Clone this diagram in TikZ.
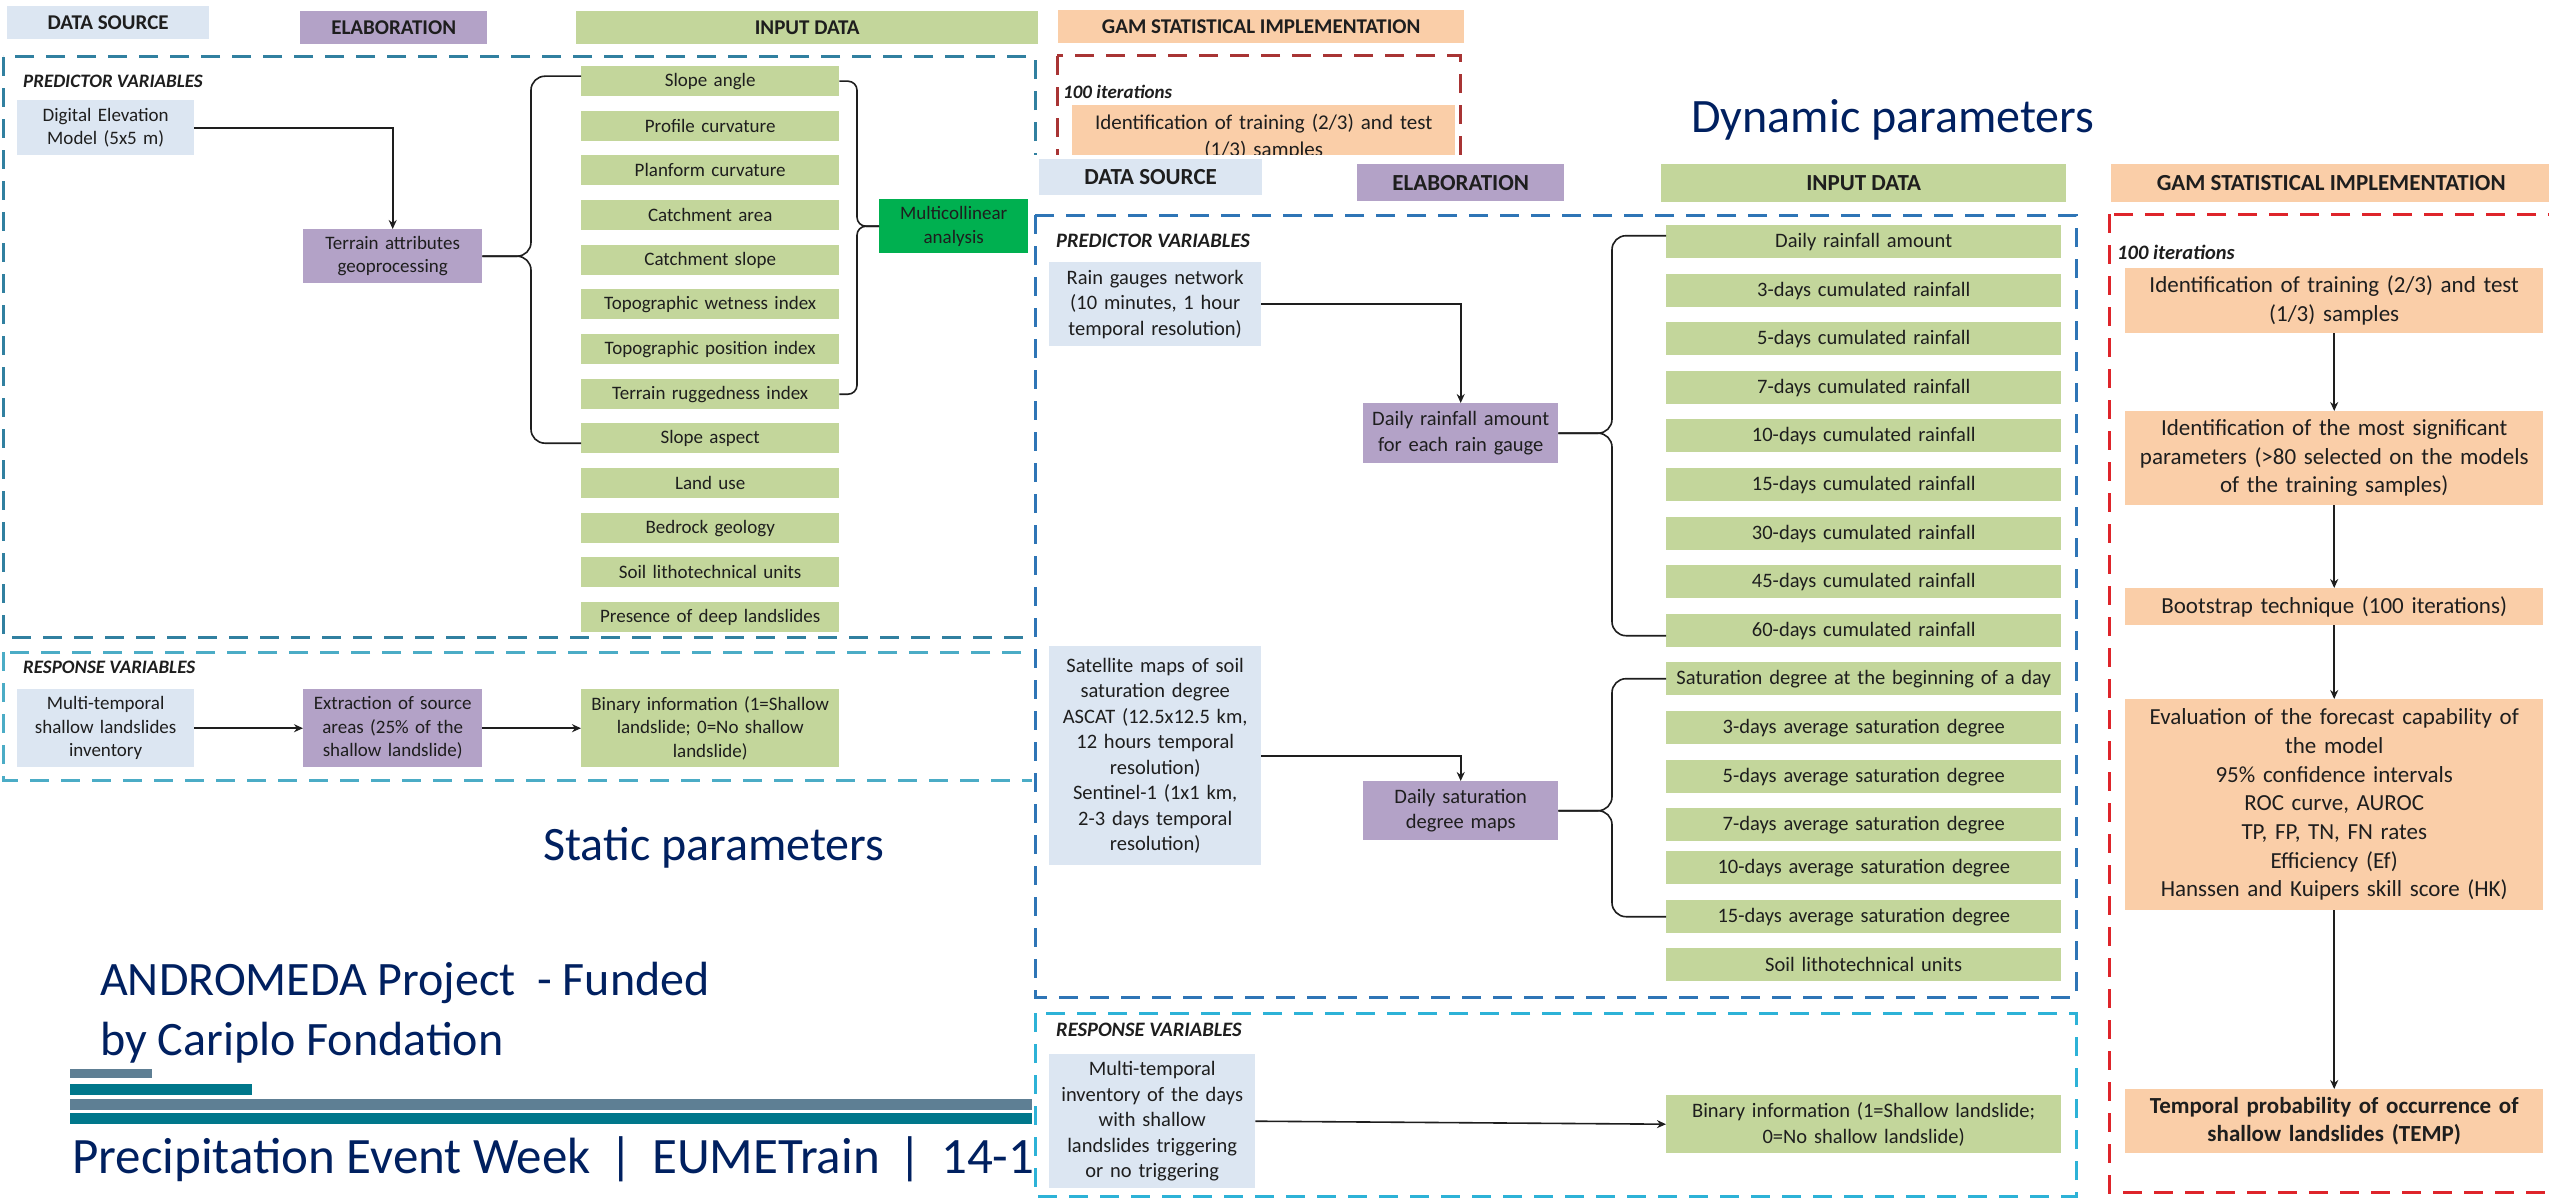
\documentclass[tikz,border=0pt]{standalone}
\usepackage{fontspec}
\setmainfont{Carlito}
\usetikzlibrary{arrows.meta,calc}
\definecolor{srcblue}{RGB}{220,230,242}
\definecolor{elapurple}{RGB}{179,162,199}
\definecolor{inpgreen}{RGB}{195,214,155}
\definecolor{gamorange}{RGB}{250,206,168}
\definecolor{mcgreen}{RGB}{0,176,80}
\definecolor{navy}{RGB}{0,32,96}
\definecolor{txt}{RGB}{30,30,30}
\definecolor{predA}{RGB}{49,128,160}
\definecolor{respA}{RGB}{75,172,198}
\definecolor{predB}{RGB}{46,117,182}
\definecolor{respB}{RGB}{45,178,215}
\definecolor{redA}{RGB}{168,52,52}
\definecolor{redB}{RGB}{222,36,42}
\definecolor{barA}{RGB}{94,127,148}
\definecolor{barB}{RGB}{0,119,139}
\newcommand\fstat{\fontsize{19}{23.5}\selectfont}
\newcommand\fdyn{\fontsize{20.5}{25.5}\selectfont}
\newcommand\fgam{\fontsize{23}{28.7}\selectfont}
\tikzset{
 bx/.style={rectangle, inner sep=0pt, anchor=north west, align=center, text=txt},
 src/.style={bx, fill=srcblue},
 ela/.style={bx, fill=elapurple},
 inp/.style={bx, fill=inpgreen},
 gbox/.style={bx, fill=gamorange},
 hdrA/.style={font=\fontsize{21}{25}\selectfont\bfseries},
 hdrB/.style={font=\fontsize{23}{27}\selectfont\bfseries},
 lblA/.style={anchor=west, inner sep=0pt, text=txt, font=\fstat\bfseries\itshape},
 lblB/.style={anchor=west, inner sep=0pt, text=txt, font=\fdyn\bfseries\itshape},
 sin/.style={inp, minimum width=258pt, minimum height=30pt, text width=250pt, font=\fstat},
 din/.style={inp, minimum width=395pt, minimum height=33pt, text width=387pt, font=\fdyn},
 gin/.style={gbox, minimum width=418pt, text width=414pt, font=\fgam},
 frame/.style={line width=3pt, dash pattern=on 19pt off 12pt},
 conn/.style={line width=1.6pt, draw=txt},
 arr/.style={conn, -{Stealth[length=9pt,width=8pt]}},
 brace/.style={conn, rounded corners=14pt},
 bigtext/.style={anchor=base west, inner sep=0pt, text=navy},
}
\begin{document}
\begin{tikzpicture}[x=1pt,y=-1pt]
\clip (0,0) rectangle (2549,1199);
\fill[white] (0,0) rectangle (2549,1199);

% ---------------- STATIC PART ----------------
\node[src, hdrA, minimum width=202pt, minimum height=33pt] (ds1) at (7,6) {DATA SOURCE};
\node[ela, hdrA, minimum width=187pt, minimum height=33pt] (el1) at (300,11) {ELABORATION};
\node[inp, hdrA, minimum width=462pt, minimum height=33pt] (in1) at (576,11) {INPUT DATA};
\node[gbox, hdrA, minimum width=406pt, minimum height=33pt] (gh1) at (1058,10) {GAM STATISTICAL IMPLEMENTATION};

\draw[frame, predA] (3,57) rectangle (1035,637);
\draw[frame, respA] (3,652) rectangle (1035,780);
\draw[frame, redA] (1057,56) rectangle (1460,400);

\node[lblA] (pv1) at (23,81) {PREDICTOR VARIABLES};
\node[lblA] (rv1) at (23,667) {RESPONSE VARIABLES};
\node[lblA] (it1) at (1063,92) {100 iterations};

\node[src, minimum width=177pt, minimum height=55pt, text width=170pt, font=\fstat] (dem) at (17,100) {Digital Elevation\\Model (5x5 m)};
\node[ela, minimum width=179pt, minimum height=54pt, text width=172pt, font=\fstat] (ter) at (303,229) {Terrain attributes\\geoprocessing};
\node[bx, fill=mcgreen, minimum width=149pt, minimum height=54pt, text width=145pt, font=\fstat] (mc) at (879,199) {Multicollinear\\analysis};

\node[sin] (sa)  at (581,66)  {Slope angle};
\node[sin] (pc)  at (581,111) {Profile curvature};
\node[sin] (plc) at (581,155) {Planform curvature};
\node[sin] (ca)  at (581,200) {Catchment area};
\node[sin] (cs)  at (581,245) {Catchment slope};
\node[sin] (twi) at (581,289) {Topographic wetness index};
\node[sin] (tpi) at (581,334) {Topographic position index};
\node[sin] (tri) at (581,379) {Terrain ruggedness index};
\node[sin] (sp)  at (581,423) {Slope aspect};
\node[sin] (lu)  at (581,468) {Land use};
\node[sin] (bg)  at (581,513) {Bedrock geology};
\node[sin] (slu) at (581,557) {Soil lithotechnical units};
\node[sin] (pdl) at (581,602) {Presence of deep landslides};

\draw[arr] (dem.east) -| (ter.north);
\coordinate (bl) at (531,0);
\coordinate (saW) at ([yshift=5pt]sa.west);
\coordinate (spW) at ([yshift=-5pt]sp.west);
\draw[brace] (saW) -- (bl |- saW) -- (bl |- ter.east) -- (ter.east);
\draw[brace] (ter.east) -- (bl |- ter.east) -- (bl |- spW) -- (spW);
\coordinate (br) at (857,0);
\draw[brace, rounded corners=9pt] (sa.east) -- (br |- sa.east) -- (br |- mc.west) -- (mc.west);
\draw[brace, rounded corners=9pt] (mc.west) -- (br |- mc.west) -- (br |- tri.east) -- (tri.east);

\node[src, minimum width=177pt, minimum height=78pt, text width=172pt, font=\fstat] (mts) at (17,689) {Multi-temporal\\shallow landslides\\inventory};
\node[ela, minimum width=179pt, minimum height=78pt, text width=174pt, font=\fstat] (ext) at (303,689) {Extraction of source\\areas (25\% of the\\shallow landslide)};
\node[inp, minimum width=258pt, minimum height=78pt, text width=250pt, font=\fstat] (bis) at (581,689) {Binary information (1=Shallow\\landslide; 0=No shallow\\landslide)};
\draw[arr] (mts.east) -- (ext.west);
\draw[arr] (ext.east) -- (bis.west);

\node[gbox, minimum width=383pt, minimum height=63pt, text width=375pt, font=\fontsize{21}{27}\selectfont] (g01) at (1072,105) {Identification of training (2/3) and test\\(1/3) samples};

\node[bigtext, font=\fontsize{48}{50}\selectfont] (stp) at (543,860) {Static parameters};
\node[bigtext, font=\fontsize{48}{50}\selectfont] (and1) at (100,995) {ANDROMEDA Project~~- Funded};
\node[bigtext, font=\fontsize{48}{50}\selectfont] (and2) at (100,1055) {by Cariplo Fondation};
\fill[barA] (70,1069) rectangle (152,1078);
\fill[barB] (70,1084) rectangle (252,1095);
\fill[barA] (70,1099) rectangle (1040,1110);
\fill[barB] (70,1113) rectangle (1040,1124);
\node[bigtext, font=\fontsize{51}{55}\selectfont] (pew) at (72,1173) {Precipitation Event Week\hspace{19pt}|\hspace{19pt}EUMETrain\hspace{19pt}|\hspace{19pt}14-1};

% ---------------- DYNAMIC PART (overlay) ----------------
\fill[white] (1032,155) rectangle (2549,1199);

\node[bigtext, font=\fontsize{48}{50}\selectfont] (dyp) at (1691,132) {Dynamic parameters};

\node[src, hdrB, minimum width=223pt, minimum height=36pt] (ds2) at (1039,159) {DATA SOURCE};
\node[ela, hdrB, minimum width=207pt, minimum height=37pt] (el2) at (1357,164) {ELABORATION};
\node[inp, hdrB, minimum width=405pt, minimum height=38pt] (in2) at (1661,164) {INPUT DATA};
\node[gbox, hdrB, minimum width=440pt, minimum height=38pt] (gh2) at (2111,164) {GAM STATISTICAL IMPLEMENTATION};

\draw[frame, predB] (1035,215) rectangle (2076,997);
\draw[frame, respB] (1035,1013) rectangle (2076,1196);
\draw[frame, redB] (2109,214) rectangle (2600,1192);

\node[lblB] (pv2) at (1056,241) {PREDICTOR VARIABLES};
\node[lblB] (rv2) at (1056,1030) {RESPONSE VARIABLES};
\node[lblB] (it2) at (2117,252) {100 iterations};

\node[src, minimum width=212pt, minimum height=84pt, text width=206pt, font=\fdyn] (rg) at (1049,262) {Rain gauges network\\(10 minutes, 1 hour\\temporal resolution)};
\node[ela, minimum width=195pt, minimum height=60pt, text width=191pt, font=\fdyn] (dr) at (1363,403) {Daily rainfall amount\\for each rain gauge};
\node[src, minimum width=212pt, minimum height=219pt, text width=208pt, font=\fdyn] (sat) at (1049,646) {Satellite maps of soil\\saturation degree\\ASCAT (12.5x12.5 km,\\12 hours temporal\\resolution)\\Sentinel-1 (1x1 km,\\2-3 days temporal\\resolution)};
\node[ela, minimum width=195pt, minimum height=59pt, text width=191pt, font=\fdyn] (dsm) at (1363,781) {Daily saturation\\degree maps};

\node[din] (r1) at (1666,225) {Daily rainfall amount};
\node[din] (r3) at (1666,274) {3-days cumulated rainfall};
\node[din] (r5) at (1666,322) {5-days cumulated rainfall};
\node[din] (r7) at (1666,371) {7-days cumulated rainfall};
\node[din] (r10) at (1666,419) {10-days cumulated rainfall};
\node[din] (r15) at (1666,468) {15-days cumulated rainfall};
\node[din] (r30) at (1666,517) {30-days cumulated rainfall};
\node[din] (r45) at (1666,565) {45-days cumulated rainfall};
\node[din] (r60) at (1666,614) {60-days cumulated rainfall};
\node[din] (s0) at (1666,662) {Saturation degree at the beginning of a day};
\node[din] (s3) at (1666,711) {3-days average saturation degree};
\node[din] (s5) at (1666,760) {5-days average saturation degree};
\node[din] (s7) at (1666,808) {7-days average saturation degree};
\node[din] (s10) at (1666,851) {10-days average saturation degree};
\node[din] (s15) at (1666,900) {15-days average saturation degree};
\node[din] (slu2) at (1666,948) {Soil lithotechnical units};

\draw[arr] (rg.east) -| (dr.north);
\draw[arr] (sat.east) -| (dsm.north);
\coordinate (bd) at (1612,0);
\coordinate (r1W) at ([yshift=6pt]r1.west);
\coordinate (r60W) at ([yshift=-5pt]r60.west);
\draw[brace] (r1W) -- (bd |- r1W) -- (bd |- dr.east) -- (dr.east);
\draw[brace] (dr.east) -- (bd |- dr.east) -- (bd |- r60W) -- (r60W);
\draw[brace] (s0.west) -- (bd |- s0.west) -- (bd |- dsm.east) -- (dsm.east);
\draw[brace] (dsm.east) -- (bd |- dsm.east) -- (bd |- s15.west) -- (s15.west);

\node[src, minimum width=206pt, minimum height=134pt, text width=202pt, font=\fdyn] (inv) at (1049,1054) {Multi-temporal\\inventory of the days\\with shallow\\landslides triggering\\or no triggering};
\node[inp, minimum width=395pt, minimum height=58pt, text width=387pt, font=\fdyn] (bid) at (1666,1095) {Binary information (1=Shallow landslide;\\0=No shallow landslide)};
\draw[arr] (inv.east) -- (bid.west);

\node[gin, minimum height=65pt] (g1) at (2125,268) {Identification of training (2/3) and test\\(1/3) samples};
\node[gin, minimum height=94pt] (g2) at (2125,411) {Identification of the most significant\\parameters (>80 selected on the models\\of the training samples)};
\node[gin, minimum height=37pt] (g3) at (2125,588) {Bootstrap technique (100 iterations)};
\node[gin, minimum height=211pt] (g4) at (2125,699) {Evaluation of the forecast capability of\\the model\\95\% confidence intervals\\ROC curve, AUROC\\TP, FP, TN, FN rates\\Efficiency (Ef)\\Hanssen and Kuipers skill score (HK)};
\node[gin, minimum height=64pt, font=\fgam\bfseries] (g5) at (2125,1089) {Temporal probability of occurrence of\\shallow landslides (TEMP)};
\draw[arr] (g1.south) -- (g2.north);
\draw[arr] (g2.south) -- (g3.north);
\draw[arr] (g3.south) -- (g4.north);
\draw[arr] (g4.south) -- (g5.north);
\end{tikzpicture}
\end{document}
